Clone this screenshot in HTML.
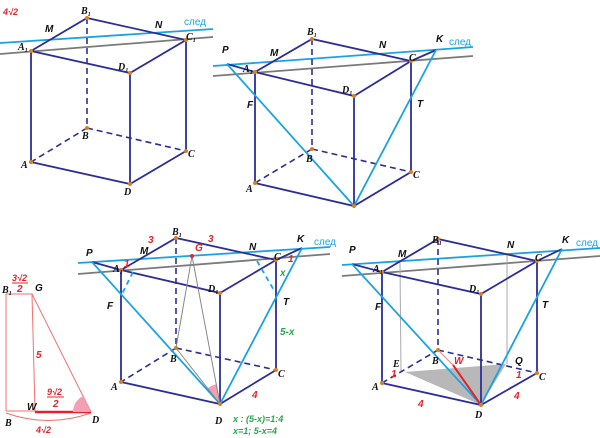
<!DOCTYPE html>
<html><head><meta charset="utf-8"><style>
html,body{margin:0;padding:0;background:#fff;width:600px;height:438px;overflow:hidden}
svg{display:block}
text{font-family:"Liberation Serif",serif;font-style:italic;font-weight:bold;font-size:10px;fill:#111}
.s{font-family:"Liberation Sans",sans-serif}
.r{fill:#e8202a}
.g{fill:#2aa64a}
.bl{fill:#1aa3e0;font-style:normal;font-weight:normal}
.e{stroke:#2d2d96;stroke-width:1.8;fill:none}
.d{stroke:#2d2d96;stroke-width:1.6;stroke-dasharray:6,4;fill:none}
.lb{stroke:#1aa3e0;stroke-width:1.8;fill:none}
.gr{stroke:#7a7a7a;stroke-width:1.8;fill:none}
.pt{fill:#d9801a}
</style></head><body>
<svg width="600" height="438" viewBox="0 0 600 438" xmlns="http://www.w3.org/2000/svg">
<!-- Cube 1 -->
<line class="gr" x1="0" y1="54" x2="213" y2="37"/>
<line class="lb" x1="0" y1="43" x2="213" y2="29"/>
<polyline class="e" points="31,51 87,18 186,40 130,73 31,51 31,162 130,184 186,151 186,40"/>
<line class="e" x1="130" y1="73" x2="130" y2="184"/>
<polyline class="d" points="87,18 87,128 31,162"/><line class="d" x1="87" y1="128" x2="186" y2="151"/>
<g class="pt"><circle cx="31" cy="51" r="2"/><circle cx="87" cy="18" r="2"/><circle cx="186" cy="40" r="2"/><circle cx="130" cy="73" r="2"/><circle cx="31" cy="162" r="2"/><circle cx="87" cy="128" r="2"/><circle cx="186" cy="151" r="2"/><circle cx="130" cy="184" r="2"/></g>
<text x="3" y="15" class="r s" style="font-size:9px">4√2</text>
<text x="81" y="14">B₁</text><text x="45" y="32" class="s">M</text><text x="155" y="28" class="s">N</text>
<text x="184" y="25" class="s bl">след</text><text x="18" y="50">A₁</text><text x="186" y="40">C₁</text>
<text x="118" y="70">D₁</text><text x="82" y="139">B</text><text x="188" y="157">C</text><text x="21" y="168">A</text><text x="124" y="195">D</text>

<!-- Cube 2 -->
<line class="gr" x1="213" y1="76" x2="473" y2="56"/>
<line class="lb" x1="213" y1="66" x2="473" y2="47"/>
<polyline class="e" points="227,64 255,72 312,39 411,61 354,96 255,72 255,183 354,206 411,172 411,61 436,50"/>
<line class="e" x1="354" y1="96" x2="354" y2="206"/>
<polyline class="d" points="312,39 312,149 255,183"/><line class="d" x1="312" y1="149" x2="411" y2="172"/>
<polyline class="lb" points="227,64 354,206 436,50"/>
<g class="pt"><circle cx="255" cy="72" r="2"/><circle cx="312" cy="39" r="2"/><circle cx="411" cy="61" r="2"/><circle cx="354" cy="96" r="2"/><circle cx="255" cy="183" r="2"/><circle cx="312" cy="149" r="2"/><circle cx="411" cy="172" r="2"/><circle cx="354" cy="206" r="2"/></g>
<text x="222" y="53" class="s">P</text><text x="270" y="56" class="s">M</text><text x="307" y="35">B₁</text><text x="379" y="48" class="s">N</text>
<text x="436" y="42" class="s">K</text><text x="449" y="45" class="s bl">след</text><text x="243" y="72">A₁</text><text x="409" y="61">C</text>
<text x="342" y="93">D₁</text><text x="247" y="108" class="s">F</text><text x="417" y="107" class="s">T</text>
<text x="306" y="162">B</text><text x="413" y="178">C</text><text x="246" y="192">A</text>

<!-- Cube 3 -->
<line class="gr" x1="78" y1="274" x2="330" y2="254"/>
<line class="lb" x1="78" y1="263" x2="330" y2="247"/>
<path d="M220,404 L207.6,388.3 A20,20 0 0 1 216.3,384.3 Z" fill="#f4a0b4"/>
<polyline class="e" points="92,262 121,270 176,238 276,260 220,293 121,270 121,382 220,404 276,370 276,260 302,248"/>
<line class="e" x1="220" y1="293" x2="220" y2="404"/>
<polyline class="d" points="176,238 176,348 121,382"/><line class="d" x1="176" y1="348" x2="276" y2="370"/>
<polyline class="lb" points="92,262 220,404 302,248"/>
<line class="lb" x1="133" y1="272" x2="122" y2="294" stroke-dasharray="5,4"/>
<line class="lb" x1="257" y1="261" x2="275" y2="292" stroke-dasharray="5,4"/>
<g stroke="#888" stroke-width="1" fill="none"><polyline points="176,348 192,256 220,404 176,348"/></g>
<g class="pt"><circle cx="121" cy="270" r="2"/><circle cx="176" cy="238" r="2"/><circle cx="276" cy="260" r="2"/><circle cx="220" cy="293" r="2"/><circle cx="121" cy="382" r="2"/><circle cx="176" cy="348" r="2"/><circle cx="276" cy="370" r="2"/><circle cx="220" cy="404" r="2"/></g>
<circle cx="192" cy="256" r="2" fill="#e8202a"/>
<text x="86" y="256" class="s">P</text><text x="140" y="254" class="s">M</text><text x="148" y="243" class="r s">3</text><text x="172" y="235">B₁</text>
<text x="208" y="242" class="r s">3</text><text x="195" y="251" class="r s">G</text><text x="249" y="250" class="s">N</text>
<text x="297" y="242" class="s">K</text><text x="314" y="245" class="s bl">след</text><text x="113" y="272">A₁</text><text x="124" y="267" class="r s">1</text>
<text x="274" y="260">C</text><text x="288" y="262" class="r s">1</text><text x="280" y="276" class="g s">x</text>
<text x="208" y="292">D₁</text><text x="107" y="309" class="s">F</text><text x="283" y="305" class="s">T</text><text x="280" y="335" class="g s">5-x</text>
<text x="170" y="362">B</text><text x="278" y="377">C</text><text x="111" y="390">A</text><text x="215" y="424">D</text><text x="252" y="398" class="r s">4</text>
<text x="233" y="422" class="g s" style="font-size:9px">x : (5-x)=1:4</text>
<text x="233" y="434" class="g s" style="font-size:9px">x=1;  5-x=4</text>

<!-- Left triangle -->
<g stroke="#f07070" stroke-width="1" fill="none">
<polyline points="6,294 32,294 35,411"/><line x1="6" y1="294" x2="6" y2="411"/><line x1="32" y1="294" x2="91" y2="412"/>
<line x1="6" y1="411" x2="35" y2="411"/><path d="M6,413 Q48,428 91,413"/>
</g>
<line x1="35" y1="412" x2="91" y2="412" stroke="#e8202a" stroke-width="2.5"/>
<path d="M91,412 L73,412 A18,18 0 0 1 83,396 Z" fill="#f4a0b4"/>
<text x="2" y="293">B₁</text><text x="35" y="291" class="s">G</text>
<text x="12" y="281" class="r s" style="font-size:9px">3√2</text><line x1="12" y1="283" x2="28" y2="283" stroke="#e8202a"/><text x="17" y="292" class="r s">2</text>
<text x="36" y="358" class="r s">5</text><text x="27" y="410" class="s">W</text>
<text x="47" y="395" class="r s" style="font-size:9px">9√2</text><line x1="47" y1="397" x2="64" y2="397" stroke="#e8202a"/><text x="53" y="407" class="r s">2</text>
<text x="5" y="426">B</text><text x="92" y="423">D</text><text x="36" y="433" class="r s" style="font-size:9px">4√2</text>

<!-- Cube 4 -->
<line class="gr" x1="342" y1="276" x2="600" y2="256"/>
<line class="lb" x1="342" y1="265" x2="600" y2="248"/>
<polygon points="405,372 506,364 481,405" fill="#b8b8b8"/>
<g stroke="#aaa" stroke-width="1"><line x1="400" y1="262" x2="401" y2="372"/><line x1="507" y1="253" x2="507" y2="364"/></g>
<polyline class="e" points="352,264 382,272 438,239 537,261 481,294 382,272 382,383 481,405 537,373 537,261 562,249"/>
<line class="e" x1="481" y1="294" x2="481" y2="405"/>
<polyline class="d" points="438,239 438,350 382,383"/><line class="d" x1="438" y1="350" x2="537" y2="373"/>
<polyline class="lb" points="352,264 481,405 562,249"/>
<line x1="438" y1="350" x2="453" y2="365" stroke="#f08080" stroke-width="1"/>
<line x1="453" y1="365" x2="481" y2="405" stroke="#e8202a" stroke-width="2"/>
<g class="pt"><circle cx="382" cy="272" r="2"/><circle cx="438" cy="239" r="2"/><circle cx="537" cy="261" r="2"/><circle cx="481" cy="294" r="2"/><circle cx="382" cy="383" r="2"/><circle cx="438" cy="350" r="2"/><circle cx="537" cy="373" r="2"/><circle cx="481" cy="405" r="2"/></g>
<text x="349" y="253" class="s">P</text><text x="398" y="257" class="s">M</text><text x="432" y="243">B₁</text><text x="507" y="248" class="s">N</text>
<text x="562" y="243" class="s">K</text><text x="576" y="246" class="s bl">след</text><text x="373" y="272">A₁</text><text x="535" y="261">C</text>
<text x="469" y="292">D₁</text><text x="375" y="310" class="s">F</text><text x="542" y="308" class="s">T</text>
<text x="432" y="364">B</text><text x="454" y="364" class="r s">W</text><text x="515" y="364" class="s">Q</text><text x="393" y="367">E</text>
<text x="391" y="377" class="r s">1</text><text x="516" y="378" class="r s">1</text><text x="539" y="380">C</text><text x="372" y="390">A</text>
<text x="418" y="407" class="r s">4</text><text x="475" y="418">D</text><text x="514" y="399" class="r s">4</text>
</svg>
</body></html>
